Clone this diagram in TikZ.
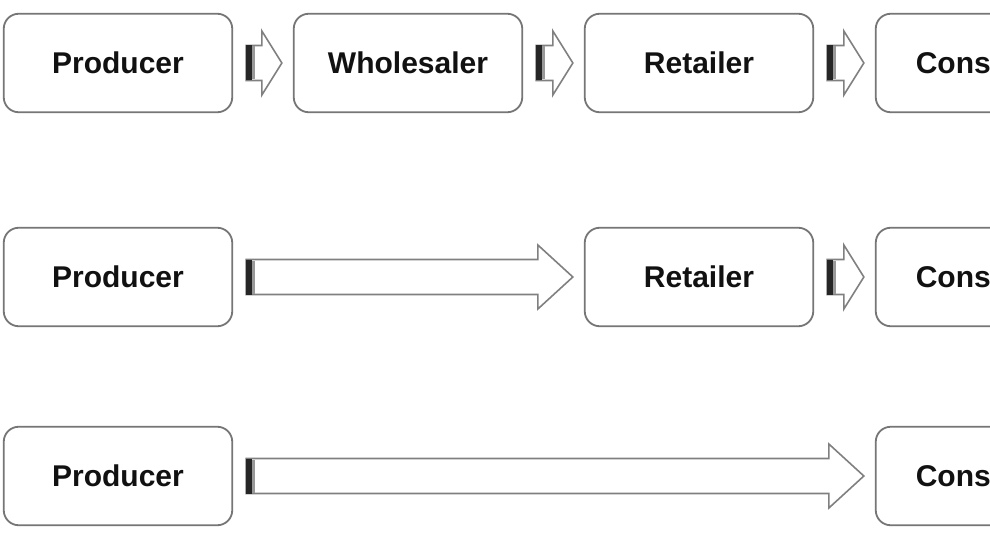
\documentclass[tikz,border=0pt]{standalone}
\usepackage{fontspec}
\setmainfont{Liberation Sans}
\usetikzlibrary{calc}
\definecolor{boxline}{HTML}{767676}
\definecolor{arrline}{HTML}{808080}
\definecolor{txt}{HTML}{111111}
\tikzset{
  stage/.style={draw=boxline, line width=1.8pt, rounded corners=15pt, fill=white,
    minimum width=228.5pt, minimum height=98.5pt, inner sep=0pt,
    font=\fontsize{30}{36}\selectfont\bfseries, text=txt, text depth=0pt},
  blockline/.style={draw=arrline, line width=1.6pt, fill=white, line join=miter},
  darkbar/.style={fill=black!85},
  lightbar/.style={fill=black!40},
}
\newcommand\arrlet[2]{let \p1=($(#1.east)+(13,0)$), \p2=($(#2.west)+(-11,0)$) in}
\newcommand\blockarr[3]{%
  \path \arrlet{#1}{#2}
    [blockline] (\x1,{\y1+17.5pt}) -- ({\x2-#3pt},{\y1+17.5pt}) -- ({\x2-#3pt},{\y1+32pt})
      -- (\x2,\y1) -- ({\x2-#3pt},{\y1-32pt}) -- ({\x2-#3pt},{\y1-17.5pt})
      -- (\x1,{\y1-17.5pt}) -- cycle;
  \path \arrlet{#1}{#2}
    [darkbar] (\x1,{\y1-17.5pt}) rectangle ({\x1+6pt},{\y1+17.5pt});
  \path \arrlet{#1}{#2}
    [lightbar] ({\x1+6pt},{\y1-16.5pt}) rectangle ({\x1+8.5pt},{\y1+16.5pt});%
}
\begin{document}
\begin{tikzpicture}[x=1pt,y=-1pt]
\useasboundingbox[fill=white] (0,0) rectangle (990,556);
% row 1
\node[stage] (p1) at (118,63) {Producer};
\node[stage] (w1) at (408,63) {Wholesaler};
\node[stage] (r1) at (699,63) {Retailer};
\node[stage] (c1) at (990,63) {Consumer};
% row 2
\node[stage] (p2) at (118,277) {Producer};
\node[stage] (r2) at (699,277) {Retailer};
\node[stage] (c2) at (990,277) {Consumer};
% row 3
\node[stage] (p3) at (118,476) {Producer};
\node[stage] (c3) at (990,476) {Consumer};
% arrows
\blockarr{p1}{w1}{20}
\blockarr{w1}{r1}{20}
\blockarr{r1}{c1}{20}
\blockarr{p2}{r2}{35}
\blockarr{r2}{c2}{20}
\blockarr{p3}{c3}{35}
\end{tikzpicture}
\end{document}
